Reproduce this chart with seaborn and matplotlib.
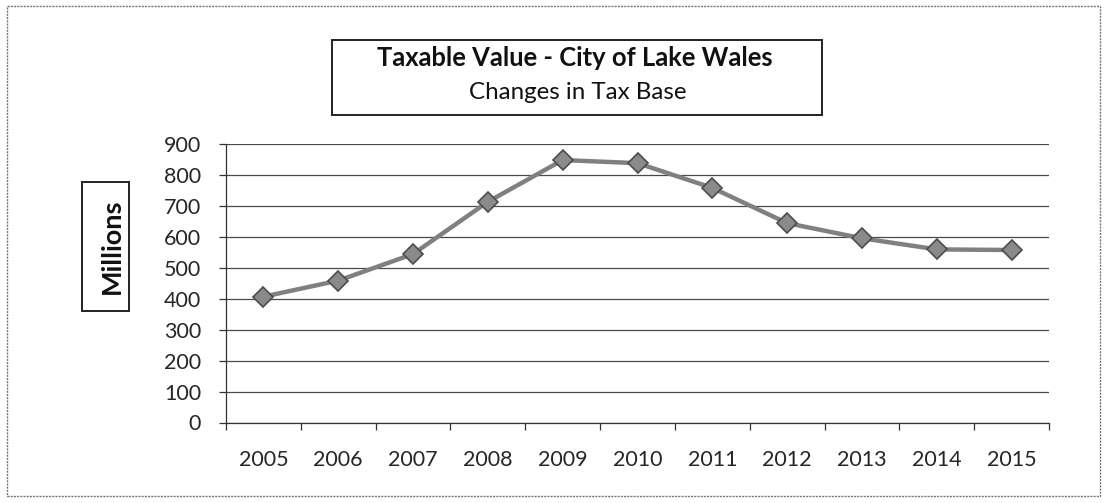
import matplotlib.pyplot as plt
import numpy as np
import pandas as pd
import seaborn as sns
from matplotlib.patches import Rectangle

# Data (millions)
years = [2005, 2006, 2007, 2008, 2009, 2010, 2011, 2012, 2013, 2014, 2015]
taxable_value = [407, 459, 545, 714, 849, 839, 759, 645, 596, 560, 558]
y_ticks = [0, 100, 200, 300, 400, 500, 600, 700, 800, 900]

title_main = 'Taxable Value - City of Lake Wales'
title_sub = 'Changes in Tax Base'
y_label = 'Millions'

sns.set_style('white')
plt.rcParams['font.family'] = ['Lato', 'DejaVu Sans']

W, H = 1107, 503
fig = plt.figure(figsize=(W / 100, H / 100), dpi=100)

def fx(px):
    return px / W

def fy(py):
    return 1 - py / H

ax = fig.add_axes([fx(226), fy(422.5), fx(1049 - 226), (422.5 - 144.3) / H])

df = pd.DataFrame({'Year': years, 'Value': taxable_value})
sns.lineplot(data=df, x='Year', y='Value', ax=ax, color='#808080', linewidth=3.2,
             marker='D', markersize=10, markerfacecolor='#8a8a8a',
             markeredgecolor='#4d4d4d', markeredgewidth=1.2, zorder=5)

ax.set_xlim(years[0] - 0.5, years[-1] + 0.5)
ax.set_ylim(0, 900)
ax.set_yticks(y_ticks)
ax.set_yticklabels([str(v) for v in y_ticks], fontsize=15.5)
ax.set_xticks(years)
ax.set_xticklabels([str(y) for y in years], fontsize=15.5)
ax.set_xticks(np.arange(years[0] - 0.5, years[-1] + 1.0, 1.0), minor=True)
ax.set_xlabel('')
ax.set_ylabel('')

ax.yaxis.grid(True, color='#4a4a4a', linewidth=0.9)
ax.xaxis.grid(False)
ax.set_axisbelow(True)

for side in ['top', 'right']:
    ax.spines[side].set_visible(False)
ax.spines['left'].set_color('#333333')
ax.spines['bottom'].set_color('#333333')
ax.spines['left'].set_linewidth(0.9)
ax.spines['bottom'].set_linewidth(0.9)

ax.tick_params(axis='y', which='major', direction='out', length=5, width=0.9,
               color='#333333', pad=13, left=True)
ax.tick_params(axis='x', which='major', length=0, pad=20, bottom=True)
ax.tick_params(axis='x', which='minor', direction='out', length=5, width=0.9,
               color='#333333', bottom=True)

# outer border
fig.patches.append(Rectangle((fx(7), fy(496)), fx(1100 - 7), (496 - 6) / H,
                             transform=fig.transFigure, fill=False,
                             edgecolor='#777777', linewidth=1.0,
                             linestyle=(0, (1.5, 0.8))))

# title box
fig.patches.append(Rectangle((fx(332), fy(115)), fx(822 - 332), (115 - 40) / H,
                             transform=fig.transFigure, fill=False,
                             edgecolor='#222222', linewidth=1.4))
fig.text(fx(575), fy(65.7), title_main, ha='center', va='baseline',
         fontsize=18.4, fontweight='bold', color='#111111')
fig.text(fx(578), fy(99.3), title_sub, ha='center', va='baseline',
         fontsize=17.4, color='#111111')

# y label box
fig.patches.append(Rectangle((fx(82), fy(311)), fx(129 - 82), (311 - 182) / H,
                             transform=fig.transFigure, fill=False,
                             edgecolor='#222222', linewidth=1.4))
fig.text(fx(112), fy(246), y_label, ha='center', va='center', rotation=90,
         fontsize=19.5, fontweight='bold', color='#111111')

plt.savefig('out.png', dpi=100)
